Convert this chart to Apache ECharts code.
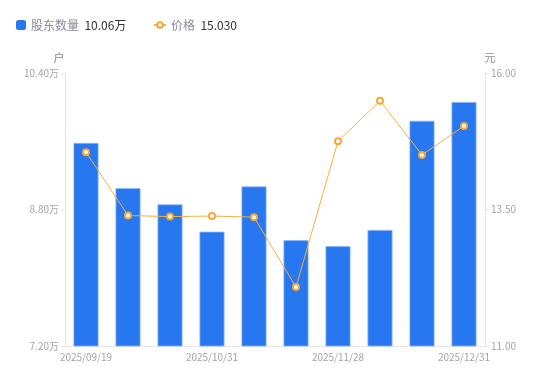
<!DOCTYPE html>
<html><head><meta charset="utf-8">
<script src="https://cdn.jsdelivr.net/npm/echarts@6/dist/echarts.min.js"></script>
<style>html,body{margin:0;padding:0;background:#fff}#c{width:550px;height:381px}</style>
</head><body><div id="c"></div>
<script>
var categories = ['2025/09/19','2025/09/30','2025/10/17','2025/10/31','2025/11/10','2025/11/20','2025/11/28','2025/12/10','2025/12/19','2025/12/31'];
var holders = [9.58, 9.05, 8.86, 8.54, 9.07, 8.44, 8.37, 8.56, 9.84, 10.06];
var prices = [14.55, 13.39, 13.37, 13.38, 13.36, 12.08, 14.75, 15.49, 14.50, 15.03];
var leftTicks = {min: 7.2, max: 10.4, interval: 1.6};
var rightTicks = {min: 11, max: 16, interval: 2.5};

var chart = echarts.init(document.getElementById('c'));
var font = 'Noto Sans CJK SC, Noto Sans, sans-serif';
function fmt(n) {
  var v = n === '股东数量' ? holders[holders.length-1].toFixed(2) + '万' : prices[prices.length-1].toFixed(3);
  return '{n|' + n + '}  {v|' + v + '}';
}
var legendText = {
  fontFamily: font,
  rich: {
    n: {color: '#8a8a99', fontSize: 12, fontFamily: font},
    v: {color: '#333', fontSize: 12, fontFamily: font}
  }
};
chart.setOption({
  animation: false,
  textStyle: {fontFamily: font},
  legend: [{
    left: 11, top: 14, itemWidth: 10, itemHeight: 10, itemGap: 5,
    data: [{name: '股东数量', icon: 'roundRect', itemStyle: {borderWidth: 0}}],
    formatter: fmt, textStyle: legendText
  }, {
    left: 148, top: 14, itemWidth: 12, itemHeight: 7, itemGap: 5,
    data: [{name: '价格'}],
    formatter: fmt, textStyle: legendText
  }],
  grid: {left: 65, right: 65, top: 73, bottom: 35},
  xAxis: {
    type: 'category', data: categories,
    axisLine: {lineStyle: {color: '#e3e3e8'}},
    axisTick: {show: false},
    axisLabel: {interval: 2, color: '#a3a3b0', fontSize: 10, margin: 6, fontFamily: font}
  },
  yAxis: [{
    type: 'value', name: '户', min: leftTicks.min, max: leftTicks.max, interval: leftTicks.interval,
    nameTextStyle: {color: '#8a8a99', fontSize: 11, padding: [0, 12, 0, 0], fontFamily: font},
    nameGap: 10,
    axisLine: {show: true, lineStyle: {color: '#e3e3e8'}},
    axisTick: {show: true, length: 4, lineStyle: {color: '#e3e3e8'}},
    splitLine: {show: false},
    axisLabel: {color: '#a3a3b0', fontSize: 10, margin: 6, fontFamily: font,
      formatter: function (v) { return v.toFixed(2) + '万'; }}
  }, {
    type: 'value', name: '元', min: rightTicks.min, max: rightTicks.max, interval: rightTicks.interval,
    nameTextStyle: {color: '#8a8a99', fontSize: 11, padding: [0, 0, 0, 10], fontFamily: font},
    nameGap: 10,
    axisLine: {show: true, lineStyle: {color: '#e3e3e8'}},
    axisTick: {show: true, length: 4, lineStyle: {color: '#e3e3e8'}},
    splitLine: {show: false},
    axisLabel: {color: '#a3a3b0', fontSize: 10, margin: 6, fontFamily: font,
      formatter: function (v) { return v.toFixed(2); }}
  }],
  series: [{
    name: '股东数量', type: 'bar', yAxisIndex: 0, data: holders, barWidth: 25,
    itemStyle: {color: '#2777F1', borderColor: '#8cb5f7', borderWidth: 0.8}
  }, {
    name: '价格', type: 'line', yAxisIndex: 1, data: prices,
    symbol: 'circle', symbolSize: 6,
    itemStyle: {color: '#fff', borderColor: '#F5A836', borderWidth: 2},
    lineStyle: {color: '#F5B040', width: 1}
  }]
});
</script></body></html>
